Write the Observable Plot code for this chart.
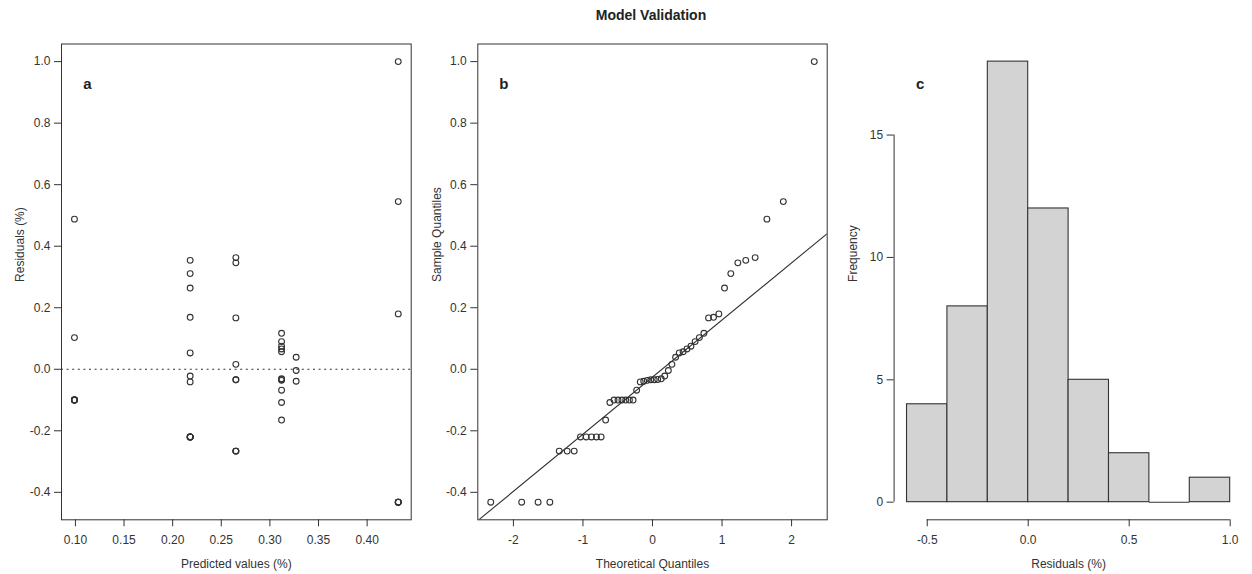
<!DOCTYPE html>
<html>
<head>
<meta charset="utf-8">
<script src="https://cdn.jsdelivr.net/npm/d3@7"></script>
<script src="https://cdn.jsdelivr.net/npm/@observablehq/plot@0.6"></script>
<style>
  html, body { margin: 0; padding: 0; background: #fff; }
  #wrap { position: relative; width: 1252px; height: 574px; overflow: hidden; font-family: "Liberation Sans", Arial, sans-serif; }
  #title { position: absolute; left: 551px; width: 200px; top: 7px; text-align: center; font-weight: bold; font-size: 14px; line-height: 16px; color: #222; }
  #wrap svg { position: absolute; top: 0; }
</style>
</head>
<body>
<div id="wrap"><div id="title">Model Validation</div></div>
<script>
// ---- data ----
const predicted = [
  0.099, 0.099, 0.099, 0.099, 0.099, 0.099, 0.099, 0.099,
  0.218, 0.218, 0.218, 0.218, 0.218, 0.218, 0.218, 0.218, 0.218, 0.218, 0.218, 0.218,
  0.265, 0.265, 0.265, 0.265, 0.265, 0.265, 0.265, 0.265, 0.265,
  0.312, 0.312, 0.312, 0.312, 0.312, 0.312, 0.312, 0.312, 0.312, 0.312, 0.312,
  0.327, 0.327, 0.327,
  0.432, 0.432, 0.432, 0.432, 0.432, 0.432, 0.432
];
const residuals = [
  0.488, 0.103, -0.100, -0.100, -0.100, -0.100, -0.100, -0.100,
  0.354, 0.311, 0.264, 0.169, 0.053, -0.022, -0.041, -0.220, -0.220, -0.220, -0.220, -0.220,
  0.363, 0.346, 0.167, 0.016, -0.034, -0.034, -0.266, -0.266, -0.266,
  0.117, 0.090, 0.075, 0.066, 0.057, -0.031, -0.033, -0.036, -0.068, -0.108, -0.165,
  0.039, -0.004, -0.039,
  1.000, 0.545, 0.180, -0.432, -0.432, -0.432, -0.432
];
// theoretical normal quantiles (x positions of the Q-Q points), ascending
const qqTheoretical = [
  -2.326, -1.881, -1.645, -1.476, -1.341, -1.227, -1.126, -1.036, -0.954, -0.878,
  -0.806, -0.739, -0.674, -0.613, -0.553, -0.496, -0.440, -0.385, -0.332, -0.279,
  -0.228, -0.176, -0.126, -0.075, -0.025, 0.025, 0.075, 0.126, 0.176, 0.228,
  0.279, 0.332, 0.385, 0.440, 0.496, 0.553, 0.613, 0.674, 0.739, 0.806,
  0.878, 0.954, 1.036, 1.126, 1.227, 1.341, 1.476, 1.645, 1.881, 2.326
];
const normalQuartile = 0.6745;
// histogram
const binEdges = [-0.6, -0.4, -0.2, 0.0, 0.2, 0.4, 0.6, 0.8, 1.0];
const histCounts = [4, 8, 18, 12, 5, 2, 0, 1];
// tick labels
const predTicks = [0.10, 0.15, 0.20, 0.25, 0.30, 0.35, 0.40];
const resTicks = [-0.4, -0.2, 0.0, 0.2, 0.4, 0.6, 0.8, 1.0];
const qqXTicks = [-2, -1, 0, 1, 2];
const histXTicks = [-0.5, 0.0, 0.5, 1.0];
const histYTicks = [0, 5, 10, 15];

// ---- helpers ----
const rExt = ([lo, hi]) => [lo - 0.04 * (hi - lo), hi + 0.04 * (hi - lo)];
const INK = "#333";
const FONT = "Liberation Sans, Arial, sans-serif";
const H = 574, MT = 43.5, MB = 54.7;
const baseStyle = { fontFamily: FONT, fontSize: "12px", color: INK, background: "transparent", overflow: "visible" };
const wrap = document.getElementById("wrap");

const points = predicted.map((p, i) => ({ p, r: residuals[i] }));
const sortedRes = d3.sort(residuals);
const qq = sortedRes.map((v, i) => ({ t: qqTheoretical[i], v }));
const q1 = d3.quantile(sortedRes, 0.25), q3 = d3.quantile(sortedRes, 0.75);
const slope = (q3 - q1) / (2 * normalQuartile);
const intercept = q1 + normalQuartile * slope;

const yDomRes = rExt(d3.extent(residuals));

function axisTitleY(text) {
  return Plot.text([text], { frameAnchor: "left", dx: -41, rotate: -90, fontSize: 12, fill: INK, lineAnchor: "middle" });
}
function axisTitleX(text) {
  return Plot.text([text], { frameAnchor: "bottom", dy: 44, fontSize: 12, fill: INK, lineAnchor: "middle" });
}
function panelLabel(text) {
  return Plot.text([text], { frameAnchor: "top-left", dx: 26, dy: 40.5, fontSize: 15, fontWeight: "bold", fill: "#222", textAnchor: "middle", lineAnchor: "middle" });
}

// ---- panel a ----
const xDomA = rExt(d3.extent(predicted));
const plotA = Plot.plot({
  width: 417, height: H,
  marginLeft: 61, marginRight: 6.3, marginTop: MT, marginBottom: MB,
  style: baseStyle,
  x: { domain: xDomA },
  y: { domain: yDomRes },
  marks: [
    Plot.frame({ stroke: INK, strokeWidth: 1 }),
    Plot.ruleY([0], { stroke: INK, strokeWidth: 1.2, strokeDasharray: "2,3.6" }),
    Plot.dot(points, { x: "p", y: "r", r: 2.9, stroke: INK, strokeWidth: 1.1, fill: "none" }),
    Plot.axisX({ ticks: predTicks, tickFormat: d => d.toFixed(2), tickSize: 7, tickPadding: 9, label: null, fontSize: 12 }),
    Plot.axisY({ ticks: resTicks, tickFormat: d => d.toFixed(1), tickSize: 7, tickPadding: 4, label: null, fontSize: 12 }),
    axisTitleX("Predicted values (%)"),
    axisTitleY("Residuals (%)"),
    panelLabel("a")
  ]
});
plotA.style.left = "0px";
wrap.appendChild(plotA);

// ---- panel b ----
const xDomB = rExt(d3.extent(qqTheoretical));
const qqLine = xDomB.map(t => ({ t, v: intercept + slope * t }));
const plotB = Plot.plot({
  width: 417, height: H,
  marginLeft: 60.3, marginRight: 7.3, marginTop: MT, marginBottom: MB,
  style: baseStyle,
  x: { domain: xDomB },
  y: { domain: yDomRes },
  marks: [
    Plot.frame({ stroke: INK, strokeWidth: 1 }),
    Plot.line(qqLine, { x: "t", y: "v", stroke: INK, strokeWidth: 1.1, clip: true }),
    Plot.dot(qq, { x: "t", y: "v", r: 2.9, stroke: INK, strokeWidth: 1.1, fill: "none" }),
    Plot.axisX({ ticks: qqXTicks, tickFormat: d => String(d), tickSize: 7, tickPadding: 9, label: null, fontSize: 12 }),
    Plot.axisY({ ticks: resTicks, tickFormat: d => d.toFixed(1), tickSize: 7, tickPadding: 4, label: null, fontSize: 12 }),
    axisTitleX("Theoretical Quantiles"),
    axisTitleY("Sample Quantiles"),
    panelLabel("b")
  ]
});
plotB.style.left = "417px";
wrap.appendChild(plotB);

// ---- panel c ----
const bins = histCounts.map((c, i) => ({ x0: binEdges[i], x1: binEdges[i + 1], count: c }));
const xDomC = rExt([binEdges[0], binEdges[binEdges.length - 1]]);
const yDomC = rExt([0, d3.max(histCounts)]);
const plotC = Plot.plot({
  width: 418, height: H,
  marginLeft: 59.6, marginRight: 9.4, marginTop: MT, marginBottom: MB,
  style: baseStyle,
  x: { domain: xDomC },
  y: { domain: yDomC },
  marks: [
    Plot.rectY(bins, { x1: "x0", x2: "x1", y: "count", fill: "#d3d3d3", stroke: INK, strokeWidth: 1.1, inset: 0 }),
    Plot.ruleY(bins.filter(b => b.count === 0), { x1: "x0", x2: "x1", y: "count", stroke: INK, strokeWidth: 1.1 }),
    Plot.ruleX([{ x: xDomC[0], y1: histYTicks[0], y2: histYTicks[histYTicks.length - 1] }], { x: "x", y1: "y1", y2: "y2", stroke: INK, strokeWidth: 1 }),
    Plot.ruleY([{ y: yDomC[0], x1: histXTicks[0], x2: histXTicks[histXTicks.length - 1] }], { y: "y", x1: "x1", x2: "x2", stroke: INK, strokeWidth: 1 }),
    Plot.axisX({ ticks: histXTicks, tickFormat: d => d.toFixed(1), tickSize: 7, tickPadding: 9, label: null, fontSize: 12 }),
    Plot.axisY({ ticks: histYTicks, tickFormat: d => String(d), tickSize: 7, tickPadding: 4, label: null, fontSize: 12 }),
    axisTitleX("Residuals (%)"),
    axisTitleY("Frequency"),
    panelLabel("c")
  ]
});
plotC.style.left = "834px";
wrap.appendChild(plotC);
</script>
</body>
</html>
